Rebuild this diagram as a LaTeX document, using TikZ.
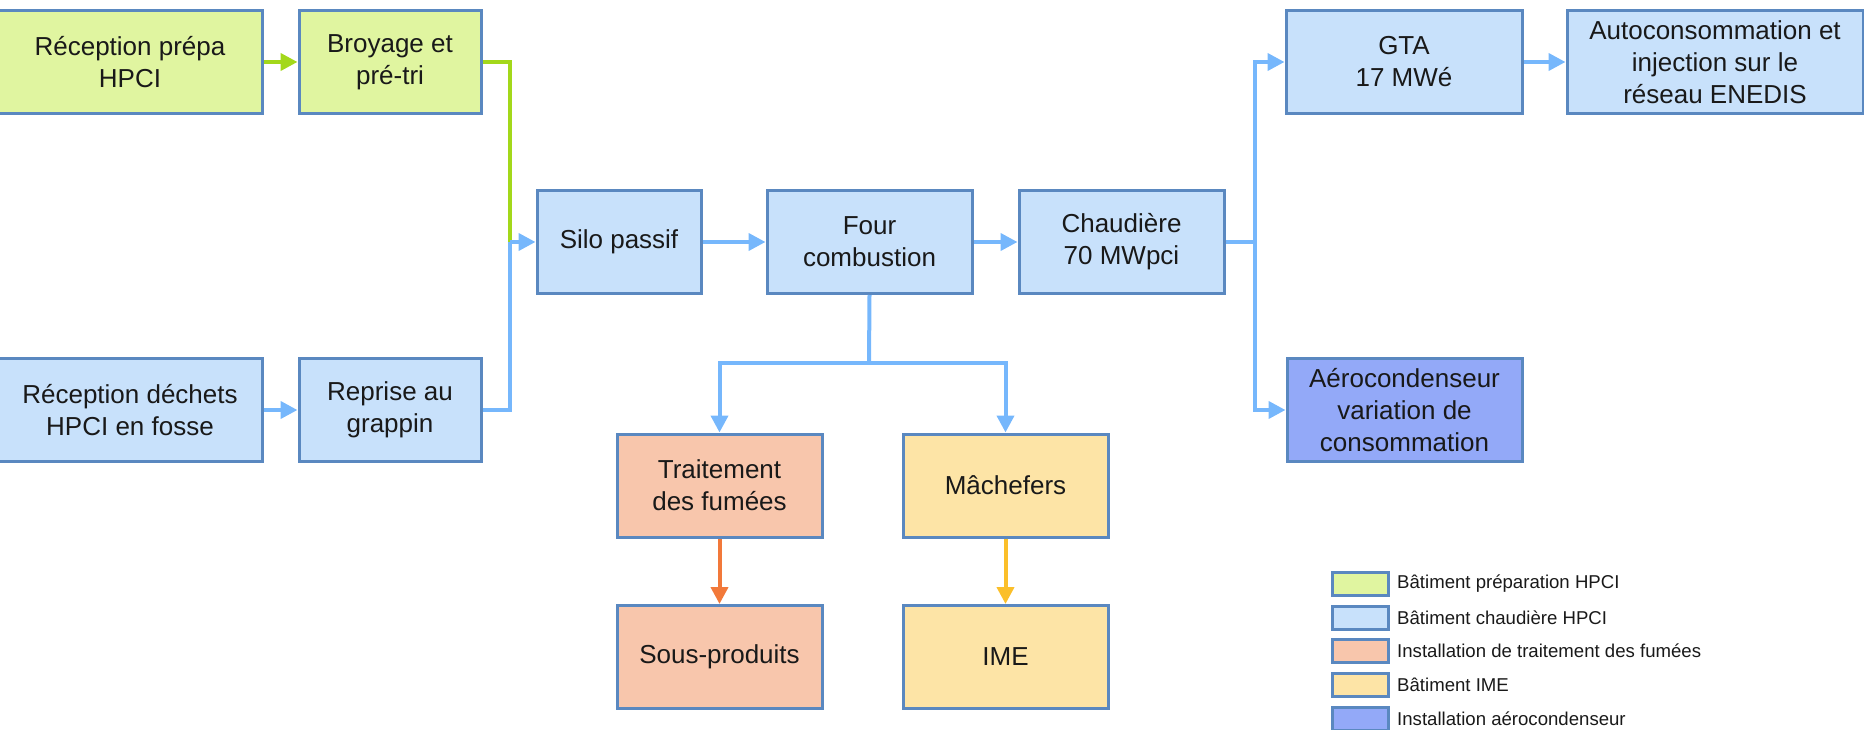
\documentclass[tikz,border=0pt]{standalone}
\usepackage{fontspec}
\setmainfont{Liberation Sans}
\usetikzlibrary{arrows.meta}
\definecolor{fgreen}{HTML}{E0F5A0}
\definecolor{fblue}{HTML}{C8E1FB}
\definecolor{fsalmon}{HTML}{F8C6AC}
\definecolor{fyellow}{HTML}{FDE4A6}
\definecolor{fpurple}{HTML}{93A9F8}
\definecolor{bord}{HTML}{5A88C0}
\definecolor{ablue}{HTML}{76B7FC}
\definecolor{agreen}{HTML}{A3D81A}
\definecolor{aorange}{HTML}{F2793A}
\definecolor{ayellow}{HTML}{FBBF2A}
\tikzset{
  box/.style={draw=bord, line width=3pt, rectangle, minimum height=103pt, inner sep=0pt,
    align=center, font=\fontsize{26}{32}\selectfont, text=black!90},
  conn/.style={line width=4pt, -{Triangle[length=17pt,width=17pt]}},
  plain/.style={line width=4pt},
  swatch/.style={draw=bord, line width=3pt, rectangle, minimum width=56pt, minimum height=23pt, inner sep=0pt},
  legtext/.style={anchor=west, inner sep=0pt, font=\fontsize{18.6}{22}\selectfont, text=black!90}
}
\begin{document}
\begin{tikzpicture}[x=1pt, y=-1pt]
\useasboundingbox (0,0) rectangle (1864,730);
% nodes
\node[box, fill=fgreen, minimum width=264pt] (rp) at (130,62) {Réception prépa\\HPCI};
\node[box, fill=fgreen, minimum width=182pt] (br) at (390,62) {Broyage et\\pré-tri};
\node[box, fill=fblue, minimum width=264pt] (rd) at (130,410) {Réception déchets\\HPCI en fosse};
\node[box, fill=fblue, minimum width=182pt] (rg) at (390,410) {Reprise au\\grappin};
\node[box, fill=fblue, minimum width=164pt] (silo) at (619,242) {Silo passif};
\node[box, fill=fblue, minimum width=205pt] (four) at (869.5,242) {Four\\combustion};
\node[box, fill=fblue, minimum width=205pt] (chaud) at (1121.5,242) {Chaudière\\70 MWpci};
\node[box, fill=fblue, minimum width=236pt] (gta) at (1404,62) {GTA\\17 MWé};
\node[box, fill=fblue, minimum width=296pt] (auto) at (1715,62) {Autoconsommation et\\injection sur le\\réseau ENEDIS};
\node[box, fill=fpurple, minimum width=235pt] (aero) at (1404.5,410) {Aérocondenseur\\variation de\\consommation};
\node[box, fill=fsalmon, minimum width=205pt] (trait) at (719.5,485.5) {Traitement\\des fumées};
\node[box, fill=fsalmon, minimum width=205pt] (sous) at (719.5,657) {Sous-produits};
\node[box, fill=fyellow, minimum width=205pt] (mach) at (1005.5,485.5) {Mâchefers};
\node[box, fill=fyellow, minimum width=205pt] (ime) at (1005.5,657) {IME};
% junctions
\coordinate (j1) at (510,242);
\coordinate (j2) at (1255,242);
\coordinate (j3) at (869,363);
% connectors
\draw[conn, agreen] (rp) -- (br);
\draw[conn, ablue] (rd) -- (rg);
\draw[plain, ablue] (rg.east) -| (j1);
\draw[plain, agreen] (br.east) -| (j1);
\draw[conn, ablue] (j1) -- (silo.west);
\draw[conn, ablue] (silo) -- (four);
\draw[conn, ablue] (four) -- (chaud);
\draw[plain, ablue] (chaud.east) -- (j2);
\draw[conn, ablue] (j2) |- (gta.west);
\draw[conn, ablue] (j2) |- (aero.west);
\draw[conn, ablue] (gta) -- (auto);
\draw[plain, ablue] (four.south) -- (j3);
\draw[conn, ablue] (j3) -| (trait.north);
\draw[conn, ablue] (j3) -| (mach.north);
\draw[conn, aorange] (trait) -- (sous);
\draw[conn, ayellow] (mach) -- (ime);
% legend
\node[swatch, fill=fgreen] (s1) at (1360,583.5) {};
\node[swatch, fill=fblue] (s2) at (1360,617.5) {};
\node[swatch, fill=fsalmon] (s3) at (1360,651) {};
\node[swatch, fill=fyellow] (s4) at (1360,685) {};
\node[swatch, fill=fpurple] (s5) at (1360,718.5) {};
\node[legtext] (l1) at (1397,583.5) {Bâtiment préparation HPCI};
\node[legtext] (l2) at (1397,617.5) {Bâtiment chaudière HPCI};
\node[legtext] (l3) at (1397,651) {Installation de traitement des fumées};
\node[legtext] (l4) at (1397,685) {Bâtiment IME};
\node[legtext] (l5) at (1397,718.5) {Installation aérocondenseur};
\end{tikzpicture}
\end{document}
